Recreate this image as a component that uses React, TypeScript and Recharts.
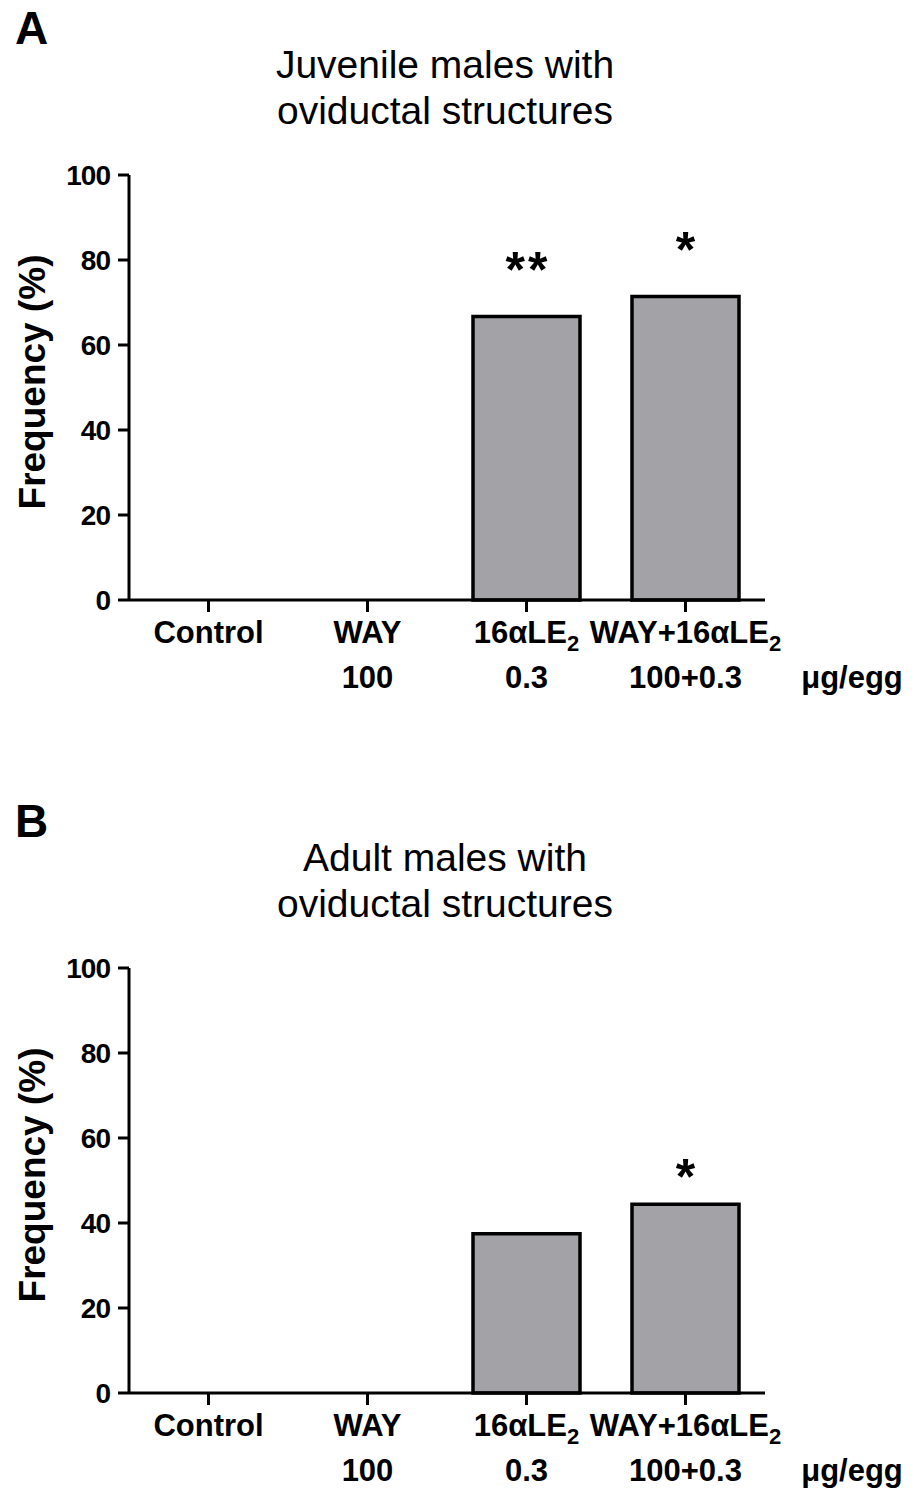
import { Bar, BarChart, LabelList, XAxis, YAxis } from "recharts";

const FONT = "'Liberation Sans', Arial, Helvetica, sans-serif";

// categories (line 1 + subscript), dose line, unit
const groupNames = ["Control", "WAY", "16\u03b1LE", "WAY+16\u03b1LE"];
const groupSubs = ["", "", "2", "2"];
const doses = ["", "100", "0.3", "100+0.3"];
const doseUnit = "\u03bcg/egg";

// frequency (%) per group
const juvenileValues = [0, 0, 66.7, 71.4];
const adultValues = [0, 0, 37.5, 44.4];

// significance marks
const juvenileStars = ["", "", "**", "*"];
const adultStars = ["", "", "", "*"];

const yTicks = [0, 20, 40, 60, 80, 100];

const BAR_FILL = "#a3a2a7";

function XTick({ x, y, index }: any) {
  return (
    <g fontFamily={FONT} fontWeight="bold" fill="#000">
      <text x={x} y={y + 29} textAnchor="middle" fontSize={31}>
        {groupNames[index]}
        {groupSubs[index] && (
          <tspan fontSize={22} dy={8}>
            {groupSubs[index]}
          </tspan>
        )}
      </text>
      <text x={x} y={y + 74} textAnchor="middle" fontSize={31}>
        {doses[index]}
      </text>
    </g>
  );
}

function Panel({
  top,
  letter,
  title,
  values,
  stars,
  starGap,
}: {
  top: number;
  letter: string;
  title: string[];
  values: number[];
  stars: string[];
  starGap: number;
}) {
  const rows = groupNames.map((g, i) => ({
    name: g,
    value: values[i],
    star: stars[i],
  }));
  return (
    <div style={{ position: "absolute", top, left: 0, width: 914, height: 695 }}>
      <div
        style={{
          position: "absolute",
          left: 15,
          top: 3,
          fontFamily: FONT,
          fontWeight: "bold",
          fontSize: 46,
          lineHeight: "50px",
        }}
      >
        {letter}
      </div>
      {title.map((t, i) => (
        <div
          key={i}
          style={{
            position: "absolute",
            left: 0,
            width: 890,
            top: 42 + i * 46,
            textAlign: "center",
            fontFamily: FONT,
            fontSize: 39,
            lineHeight: "46px",
          }}
        >
          {t}
        </div>
      ))}
      <div style={{ position: "absolute", left: 0, top: 0 }}>
        <BarChart
          width={914}
          height={695}
          data={rows}
          margin={{ top: 175, right: 149, bottom: 5, left: 59 }}
          barCategoryGap={26}
        >
          <XAxis
            dataKey="name"
            height={90}
            axisLine={{ stroke: "#000", strokeWidth: 3 }}
            tickLine={{ stroke: "#000", strokeWidth: 3 }}
            tickSize={12}
            tick={<XTick />}
            interval={0}
            label={{
              content: ({ viewBox }: any) => (
                <text
                  x={viewBox.x + viewBox.width + 87}
                  y={viewBox.y + 12 + 2 + 74}
                  textAnchor="middle"
                  fontFamily={FONT}
                  fontWeight="bold"
                  fontSize={31}
                  fill="#000"
                >
                  {doseUnit}
                </text>
              ),
            }}
          />
          <YAxis
            type="number"
            domain={[0, 100]}
            ticks={yTicks}
            width={70}
            axisLine={{ stroke: "#000", strokeWidth: 3 }}
            tickLine={{ stroke: "#000", strokeWidth: 3 }}
            tickSize={11}
            tickMargin={8}
            tick={{
              fill: "#000",
              fontSize: 28,
              fontWeight: "bold",
              fontFamily: FONT,
              letterSpacing: -1,
            }}
            label={{
              content: () => (
                <text
                  x={32}
                  y={382}
                  transform="rotate(-90 32 382)"
                  textAnchor="middle"
                  dominantBaseline="central"
                  fontFamily={FONT}
                  fontWeight="bold"
                  fontSize={37}
                  fill="#000"
                >
                  Frequency (%)
                </text>
              ),
            }}
          />
          <Bar
            dataKey="value"
            fill={BAR_FILL}
            stroke="#000"
            strokeWidth={3.5}
            isAnimationActive={false}
          >
            <LabelList
              dataKey="star"
              content={(props: any) => {
                const vb = props.viewBox ?? props;
                if (!props.value) return null;
                return (
                  <text
                    x={vb.x + vb.width / 2 + 1.5}
                    y={vb.y - starGap + 24}
                    textAnchor="middle"
                    fontFamily={FONT}
                    fontWeight="bold"
                    fontSize={50}
                    letterSpacing={3}
                    fill="#000"
                  >
                    {props.value}
                  </text>
                );
              }}
            />
          </Bar>
        </BarChart>
      </div>
    </div>
  );
}

export default function App() {
  return (
    <div
      style={{
        position: "absolute",
        left: 0,
        top: 0,
        width: 914,
        height: 1488,
        background: "#fff",
      }}
    >
      <Panel
        top={0}
        letter="A"
        title={["Juvenile males with", "oviductal structures"]}
        values={juvenileValues}
        stars={juvenileStars}
        starGap={54}
      />
      <Panel
        top={793}
        letter="B"
        title={["Adult males with", "oviductal structures"]}
        values={adultValues}
        stars={adultStars}
        starGap={34}
      />
    </div>
  );
}
